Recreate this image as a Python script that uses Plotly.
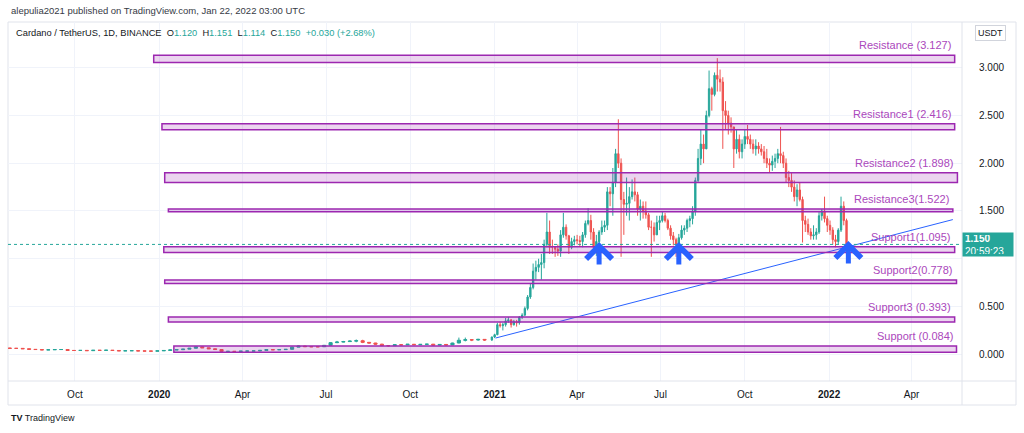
import plotly.graph_objects as go
import pandas as pd

# ---------------- data ----------------
# weekly candles (flat period), open of first candle, then opens = previous close
weekly_start = "2019-07-22"
weekly_open0 = 0.065
weekly_close = [0.062, 0.062, 0.058, 0.052, 0.050, 0.046, 0.047, 0.050, 0.050, 0.040, 0.040, 0.041,
                0.038, 0.042, 0.041, 0.043, 0.040, 0.036, 0.037, 0.038, 0.035, 0.034, 0.033, 0.036,
                0.040, 0.046, 0.048, 0.054, 0.063, 0.078, 0.068, 0.058, 0.050, 0.030, 0.031, 0.030,
                0.033, 0.034, 0.035, 0.041, 0.049, 0.047, 0.049, 0.052, 0.075, 0.086, 0.080, 0.079,
                0.079, 0.094, 0.122, 0.128, 0.133, 0.138, 0.142, 0.125, 0.118, 0.106, 0.091, 0.090,
                0.100, 0.099, 0.105, 0.100, 0.104, 0.106, 0.096, 0.103, 0.098, 0.118, 0.147, 0.152,
                0.150, 0.156, 0.150]
weekly_high = [0.068, 0.066, 0.064, 0.058, 0.054, 0.051, 0.049, 0.052, 0.055, 0.051, 0.042, 0.043,
               0.042, 0.045, 0.045, 0.044, 0.043, 0.041, 0.039, 0.040, 0.039, 0.036, 0.036, 0.037,
               0.041, 0.047, 0.050, 0.055, 0.064, 0.083, 0.080, 0.070, 0.060, 0.052, 0.034, 0.033,
               0.034, 0.036, 0.036, 0.042, 0.051, 0.052, 0.051, 0.054, 0.080, 0.090, 0.089, 0.084,
               0.083, 0.097, 0.128, 0.140, 0.140, 0.146, 0.155, 0.152, 0.129, 0.120, 0.110, 0.095,
               0.104, 0.102, 0.108, 0.106, 0.108, 0.109, 0.108, 0.105, 0.108, 0.121, 0.175, 0.175,
               0.160, 0.162, 0.158]
weekly_low = [0.058, 0.058, 0.055, 0.050, 0.047, 0.044, 0.045, 0.046, 0.048, 0.038, 0.038, 0.039,
              0.037, 0.037, 0.040, 0.041, 0.039, 0.034, 0.035, 0.036, 0.034, 0.032, 0.032, 0.033,
              0.035, 0.039, 0.045, 0.047, 0.054, 0.062, 0.066, 0.055, 0.049, 0.022, 0.026, 0.028,
              0.029, 0.032, 0.033, 0.034, 0.041, 0.045, 0.045, 0.048, 0.051, 0.074, 0.076, 0.075,
              0.074, 0.078, 0.093, 0.117, 0.125, 0.129, 0.126, 0.117, 0.112, 0.101, 0.085, 0.080,
              0.089, 0.093, 0.097, 0.097, 0.097, 0.099, 0.093, 0.094, 0.094, 0.097, 0.115, 0.135,
              0.138, 0.142, 0.140]

# 3-day candles (bull run period)
d3_start = "2020-12-29"
d3_open0 = 0.150
d3_close = [0.181,
            0.205, 0.31, 0.30, 0.31, 0.35, 0.36, 0.31, 0.34, 0.33, 0.39,
            0.41, 0.48, 0.60, 0.70, 0.87, 0.91, 0.94, 0.96, 1.15, 1.28,
            1.12, 1.12, 1.10, 1.08, 1.25, 1.33, 1.24, 1.12, 1.18, 1.20,
            1.19, 1.18, 1.25, 1.37, 1.40, 1.28, 1.12, 1.18, 1.28, 1.33,
            1.35, 1.70, 1.68, 1.80, 2.10, 2.00, 1.62, 1.57, 1.58, 1.65,
            1.70, 1.67, 1.52, 1.55, 1.50, 1.46, 1.33, 1.33, 1.25, 1.38,
            1.40, 1.45, 1.40, 1.32, 1.24, 1.20, 1.15, 1.22, 1.30, 1.32,
            1.40, 1.42, 1.50, 1.82, 2.05, 2.20, 2.15, 2.50, 2.78, 2.72,
            2.92, 2.88, 2.85, 2.55, 2.50, 2.42, 2.38, 2.15, 2.25, 2.12,
            2.20, 2.28, 2.25, 2.20, 2.15, 2.18, 2.15, 2.12, 2.05, 2.00,
            1.98, 2.02, 2.05, 2.10, 2.08, 2.00, 1.85, 1.82, 1.75, 1.65,
            1.72, 1.62, 1.40, 1.36, 1.28, 1.24, 1.25, 1.28, 1.45, 1.50,
            1.42, 1.35, 1.30, 1.20, 1.18, 1.30, 1.55, 1.40, 1.15]
d3_high = [0.185,
           0.215, 0.33, 0.34, 0.33, 0.38, 0.39, 0.37, 0.36, 0.36, 0.40,
           0.43, 0.50, 0.62, 0.74, 0.95, 0.98, 1.00, 1.05, 1.20, 1.48,
           1.40, 1.20, 1.13, 1.15, 1.30, 1.48, 1.36, 1.25, 1.22, 1.24,
           1.25, 1.24, 1.28, 1.40, 1.53, 1.46, 1.32, 1.25, 1.30, 1.40,
           1.40, 1.75, 1.75, 1.95, 2.15, 2.46, 2.05, 1.70, 1.85, 1.75,
           1.83, 1.85, 1.70, 1.62, 1.60, 1.60, 1.48, 1.40, 1.38, 1.45,
           1.45, 1.50, 1.48, 1.42, 1.35, 1.28, 1.22, 1.26, 1.35, 1.35,
           1.42, 1.45, 1.55, 1.85, 2.15, 2.35, 2.30, 2.55, 2.97, 2.80,
           2.95, 3.10, 2.98, 2.90, 2.65, 2.55, 2.48, 2.38, 2.35, 2.30,
           2.25, 2.35, 2.40, 2.30, 2.25, 2.25, 2.22, 2.20, 2.18, 2.15,
           2.05, 2.08, 2.10, 2.15, 2.38, 2.12, 2.05, 1.92, 1.90, 1.82,
           1.78, 1.80, 1.65, 1.45, 1.42, 1.32, 1.35, 1.32, 1.50, 1.52,
           1.65, 1.45, 1.40, 1.33, 1.25, 1.32, 1.65, 1.60, 1.42]
d3_low = [0.140,
          0.170, 0.20, 0.28, 0.25, 0.29, 0.33, 0.28, 0.30, 0.29, 0.31,
          0.37, 0.40, 0.46, 0.58, 0.68, 0.78, 0.86, 0.78, 0.90, 1.12,
          1.05, 1.05, 1.02, 1.03, 1.02, 1.22, 1.20, 1.05, 1.10, 1.14,
          1.15, 1.13, 1.12, 1.22, 1.35, 1.20, 1.08, 1.03, 1.12, 1.25,
          1.28, 1.30, 1.55, 1.45, 1.75, 1.95, 1.02, 1.25, 1.45, 1.40,
          1.62, 1.60, 1.45, 1.40, 1.42, 1.42, 1.30, 1.02, 1.18, 1.25,
          1.30, 1.38, 1.38, 1.30, 1.20, 1.14, 1.02, 1.10, 1.20, 1.25,
          1.28, 1.33, 1.36, 1.45, 1.80, 1.98, 2.00, 2.15, 2.48, 2.55,
          2.70, 2.75, 2.75, 2.15, 2.35, 2.30, 2.32, 1.95, 2.10, 2.05,
          2.05, 2.15, 2.20, 2.15, 2.10, 2.08, 2.10, 2.08, 2.00, 1.95,
          1.90, 1.92, 1.95, 2.00, 2.00, 1.95, 1.80, 1.75, 1.70, 1.60,
          1.55, 1.60, 1.17, 1.28, 1.25, 1.20, 1.20, 1.20, 1.26, 1.40,
          1.38, 1.28, 1.25, 1.15, 1.12, 1.15, 1.28, 1.35, 1.08]

zone_names = ["Resistance (3.127)", "Resistance1 (2.416)", "Resistance2 (1.898)", "Resistance3(1.522)",
              "Support1(1.095)", "Support2(0.778)", "Support3 (0.393)", "Support (0.084)"]
zone_top = [3.130, 2.413, 1.899, 1.521, 1.125, 0.778, 0.391, 0.086]
zone_bottom = [3.055, 2.350, 1.798, 1.493, 1.065, 0.740, 0.338, 0.022]
zone_start = ["2019-12-26", "2020-01-04", "2020-01-07", "2020-01-11",
              "2020-01-06", "2020-01-07", "2020-01-11", "2020-01-17"]
zone_end = ["2022-05-18", "2022-05-18", "2022-05-21", "2022-05-16",
            "2022-05-18", "2022-05-20", "2022-05-18", "2022-05-20"]

trend_x = ["2021-01-02", "2022-05-16"]
trend_y = [0.17, 1.41]

arrow_x = ["2021-04-25", "2021-07-21", "2022-01-22"]
arrow_y = [1.176, 1.176, 1.186]

last_close = 1.150
countdown = "20:59:23"

x_tick_vals = ["2019-10-01", "2020-01-01", "2020-04-01", "2020-07-01", "2020-10-01", "2021-01-01",
               "2021-04-01", "2021-07-01", "2021-10-01", "2022-01-01", "2022-04-01"]
x_tick_text = ["Oct", "<b>2020</b>", "Apr", "Jul", "Oct", "<b>2021</b>", "Apr", "Jul", "Oct",
               "<b>2022</b>", "Apr"]
y_tick_vals = [0.0, 0.5, 1.0, 1.5, 2.0, 2.5, 3.0]
# 1.000 is hidden behind the last-price label in the reference
y_tick_text = ["0.000", "0.500", "", "1.500", "2.000", "2.500", "3.000"]

x_range = ["2019-07-20", "2022-05-26"]
y_range = [-0.2795, 3.478]

# ---------------- styles ----------------
UP = "#26a69a"
DOWN = "#ef5350"
PURPLE = "#9c27b0"
PURPLE_TXT = "#ab47bc"
BLUE = "#2962ff"
GRID = "#f0f3fa"
FRAME = "#e0e3eb"
TXT = "#131722"
FONT = "Liberation Sans"

# plot area in pixels: left 8, right 962, top 22, bottom 381
L, R, T, B = 8, 962, 22, 381
W, H = 1024, 433


def px(xpix):
    return (xpix - L) / (R - L)


def py(ypix):
    return (B - ypix) / (B - T)


w_dates = pd.date_range(weekly_start, periods=len(weekly_close), freq="7D")
w_open = [weekly_open0] + weekly_close[:-1]
d_dates = pd.date_range(d3_start, periods=len(d3_close), freq="3D")
d_open = [d3_open0] + d3_close[:-1]

fig = go.Figure()
candle_style = dict(
    increasing=dict(line=dict(color=UP, width=1), fillcolor=UP),
    decreasing=dict(line=dict(color=DOWN, width=1), fillcolor=DOWN),
    whiskerwidth=0, showlegend=False, hoverinfo="skip",
)
# weekly candles on an overlaid (hidden) x axis so their widths are computed on their own
fig.add_trace(go.Candlestick(x=w_dates, open=w_open, high=weekly_high, low=weekly_low,
                             close=weekly_close, xaxis="x2", yaxis="y", **candle_style))
fig.add_trace(go.Candlestick(x=d_dates, open=d_open, high=d3_high, low=d3_low,
                             close=d3_close, **candle_style))

# trend line
fig.add_trace(go.Scatter(x=trend_x, y=trend_y, mode="lines", line=dict(color=BLUE, width=1),
                         showlegend=False, hoverinfo="skip"))

shapes = []
annotations = []

# zones
for name, top, bot, x0, x1 in zip(zone_names, zone_top, zone_bottom, zone_start, zone_end):
    shapes.append(dict(type="rect", xref="x", yref="y", x0=x0, x1=x1, y0=bot, y1=top,
                       fillcolor="rgba(156,39,176,0.2)", line=dict(color=PURPLE, width=1.5),
                       layer="above"))
    annotations.append(dict(xref="x", yref="y", x=x1, y=top, text=name, showarrow=False,
                            xanchor="right", yanchor="middle", xshift=-2, yshift=10,
                            font=dict(family=FONT, size=11, color=PURPLE_TXT)))

# last price dotted line
shapes.append(dict(type="line", xref="paper", yref="y", x0=0, x1=1, y0=last_close, y1=last_close,
                   line=dict(color=UP, width=1, dash="dot"), layer="above"))

# frame lines
fx1 = px(1016)
fy0 = py(405)
shapes += [
    dict(type="rect", xref="paper", yref="paper", x0=0, x1=fx1, y0=fy0, y1=1,
         line=dict(color=FRAME, width=1), fillcolor="rgba(0,0,0,0)", layer="below"),
    dict(type="line", xref="paper", yref="paper", x0=1, x1=1, y0=fy0, y1=1,
         line=dict(color=FRAME, width=1)),
    dict(type="line", xref="paper", yref="paper", x0=0, x1=fx1, y0=0, y1=0,
         line=dict(color=FRAME, width=1)),
]

# arrows
for ax_, ay_ in zip(arrow_x, arrow_y):
    annotations.append(dict(xref="x", yref="y", x=ax_, y=ay_, text="", showarrow=True,
                            ax=0, ay=24, arrowhead=4, arrowsize=1, arrowwidth=5,
                            arrowcolor=BLUE, standoff=0))

# price label
annotations.append(dict(xref="paper", yref="y", x=1, y=last_close, xanchor="left", yanchor="middle",
                        text=f"<b>{last_close:.3f}</b><br>{countdown}", showarrow=False, align="left",
                        bgcolor=UP, width=46, height=19, borderpad=2, xshift=0,
                        font=dict(family=FONT, size=10, color="white")))

# USDT box
annotations.append(dict(xref="paper", yref="paper", x=px(990), y=py(33.5), text="USDT",
                        xanchor="center", yanchor="middle",
                        showarrow=False, bordercolor="#d1d4dc", borderwidth=1, borderpad=2,
                        font=dict(family=FONT, size=9, color=TXT)))

# header
NB = "\u00a0"
teal = lambda s: f"<span style='color:{UP}'>{s}</span>"
line2 = ("Cardano / TetherUS, 1D, BINANCE" + NB * 2 + "O" + teal("1.120") + NB * 2 + "H" + teal("1.151")
         + NB * 2 + "L" + teal("1.114") + NB * 2 + "C" + teal("1.150") + NB * 2 + teal("+0.030 (+2.68%)"))
annotations.append(dict(xref="paper", yref="paper", x=px(9), y=py(10), xanchor="left", yanchor="middle",
                        text="alepulia2021 published on TradingView.com, Jan 22, 2022 03:00 UTC",
                        showarrow=False, font=dict(family=FONT, size=9.5, color="#363a45")))
annotations.append(dict(xref="paper", yref="paper", x=px(14), y=py(33), xanchor="left", yanchor="middle",
                        text=line2, showarrow=False, font=dict(family=FONT, size=9.3, color=TXT)))
# footer
annotations.append(dict(xref="paper", yref="paper", x=px(9), y=py(418), xanchor="left", yanchor="middle",
                        text="<b>TV</b> TradingView", showarrow=False,
                        font=dict(family=FONT, size=9, color=TXT)))

axis_common = dict(type="date", range=x_range, fixedrange=True)
fig.update_layout(
    width=W, height=H,
    margin=dict(l=L, r=W - R, t=T, b=H - B, pad=0),
    paper_bgcolor="white", plot_bgcolor="white",
    showlegend=False, hovermode=False,
    shapes=shapes, annotations=annotations,
    font=dict(family=FONT, color=TXT),
    xaxis=dict(tickvals=x_tick_vals, ticktext=x_tick_text,
               showgrid=True, gridcolor=GRID, zeroline=False, showline=False, ticks="",
               ticklabelstandoff=6, tickfont=dict(family=FONT, size=10, color=TXT),
               rangeslider=dict(visible=False), **axis_common),
    xaxis2=dict(overlaying="x", visible=False, showgrid=False, rangeslider=dict(visible=False),
                **axis_common),
    yaxis=dict(side="right", range=y_range, tickvals=y_tick_vals, ticktext=y_tick_text,
               showgrid=True, gridcolor=GRID, zeroline=False, showline=False, ticks="",
               ticklabelstandoff=16, tickfont=dict(family=FONT, size=10, color=TXT), fixedrange=True),
)

fig.write_html("out.html", config={"displayModeBar": False},
               post_script="document.body.style.margin='0';")
